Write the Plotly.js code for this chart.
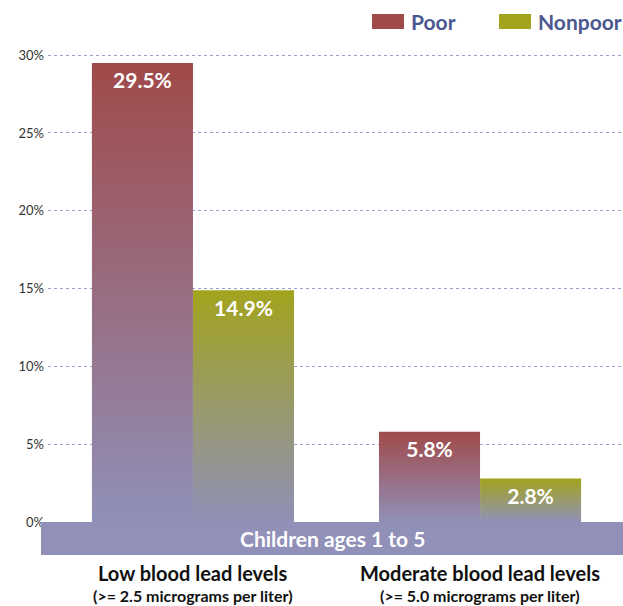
<!DOCTYPE html>
<html><head><meta charset="utf-8">
<script src="https://cdn.plot.ly/plotly-3.0.1.min.js"></script>
<style>html,body{margin:0;padding:0;background:#fff}</style>
</head><body>
<div id="chart" style="width:623px;height:606px"></div>
<script>
const categories = ["Low blood lead levels", "Moderate blood lead levels"];
const subLabels = ["(>= 2.5 micrograms per liter)", "(>= 5.0 micrograms per liter)"];
const seriesNames = ["Poor", "Nonpoor"];
const poor = [29.5, 5.8];
const nonpoor = [14.9, 2.8];
const bandLabel = "Children ages 1 to 5";
const yTicks = [0, 5, 10, 15, 20, 25, 30];

const colors = {Poor: "#a04a4a", Nonpoor: "#a2a41e"};
const bandColor = "#9090b8";
const textBlue = "#4b5890";
const FONT = "Lato, 'Open Sans', sans-serif";
const barW = 0.352;
const yMin = -2.12, yMax = 30.33;

const traces = [];
const seriesVals = [poor, nonpoor];
seriesNames.forEach((name, s) => {
  const vals = seriesVals[s];
  vals.forEach((v, i) => {
    const x0 = s === 0 ? i - barW : i;
    const x1 = s === 0 ? i : i + barW;
    traces.push({
      type: "scatter", mode: "lines",
      x: [x0, x1, x1, x0, x0], y: [0, 0, v, v, 0],
      fill: "toself", line: {width: 0, color: colors[name]},
      fillgradient: {type: "vertical", start: 0, stop: v,
        colorscale: [[0, bandColor], [1, colors[name]]]},
      name: name, showlegend: false, hoverinfo: "skip"
    });
  });
  traces.push({
    type: "scatter", mode: "markers+text",
    x: vals.map((v, i) => s === 0 ? i - barW / 2 : i + barW / 2),
    y: vals,
    marker: {size: 14, color: "rgba(0,0,0,0)"},
    text: vals.map(v => "<b>" + v.toFixed(1) + "%</b>"),
    textposition: "bottom center",
    textfont: {family: FONT, size: 21, color: "#ffffff"},
    showlegend: false, hoverinfo: "skip"
  });
});

const pxL = 48, pxR = 623, pxT = 50, plotH = 505;
const py = p => 1 - (p - pxT) / plotH;
const px = p => (p - pxL) / (pxR - pxL);

const annotations = [
  {xref: "paper", yref: "y", x: px((41 + 623) / 2), y: yMin / 2, text: "<b>" + bandLabel + "</b>",
   showarrow: false, font: {family: FONT, size: 21, color: "#ffffff"}, xanchor: "center", yanchor: "middle"},
  {xref: "paper", yref: "paper", x: px(409), y: py(21.5), text: "<b>" + seriesNames[0] + "</b>",
   showarrow: false, font: {family: FONT, size: 21, color: textBlue}, xanchor: "left", yanchor: "middle"},
  {xref: "paper", yref: "paper", x: px(536), y: py(21.5), text: "<b>" + seriesNames[1] + "</b>",
   showarrow: false, font: {family: FONT, size: 21, color: textBlue}, xanchor: "left", yanchor: "middle"}
];
categories.forEach((c, i) => {
  annotations.push({xref: "x", yref: "paper", x: i, y: py(572.5), text: "<b>" + c + "</b>",
    showarrow: false, font: {family: FONT, size: 20, color: "#111"}, xanchor: "center", yanchor: "middle", borderpad: 0});
  annotations.push({xref: "x", yref: "paper", x: i, y: py(595.6), text: "<b>" + subLabels[i] + "</b>",
    showarrow: false, font: {family: FONT, size: 16, color: "#111"}, xanchor: "center", yanchor: "middle", borderpad: 0});
});

const layout = {
  width: 623, height: 606,
  margin: {l: pxL, r: 0, t: pxT, b: 51},
  paper_bgcolor: "#ffffff", plot_bgcolor: "#ffffff",
  showlegend: false,
  font: {family: FONT, color: "#222"},
  xaxis: {
    range: [-0.505, 1.498], showgrid: false, zeroline: false, showline: false,
    showticklabels: false, ticks: ""
  },
  yaxis: {
    range: [yMin, yMax], tickmode: "array", tickvals: yTicks,
    ticktext: yTicks.map(t => t + "%"),
    tickfont: {family: FONT, size: 13, color: "#333"},
    showgrid: true, gridcolor: "#a0a0d0", griddash: "3px,3px", gridwidth: 1,
    zeroline: false, showline: false, ticks: "", ticklabelstandoff: 3
  },
  shapes: [
    {type: "rect", xref: "paper", yref: "y", x0: px(41), x1: 1, y0: yMin, y1: 0,
     fillcolor: bandColor, line: {width: 0}, layer: "above"},
    {type: "rect", xref: "paper", yref: "paper", x0: px(372), x1: px(404),
     y0: py(29), y1: py(14), fillcolor: colors.Poor, line: {width: 0}},
    {type: "rect", xref: "paper", yref: "paper", x0: px(499), x1: px(531),
     y0: py(29), y1: py(14), fillcolor: colors.Nonpoor, line: {width: 0}}
  ],
  annotations: annotations
};

Plotly.newPlot("chart", traces, layout, {displayModeBar: false, staticPlot: true});
</script>
</body></html>
